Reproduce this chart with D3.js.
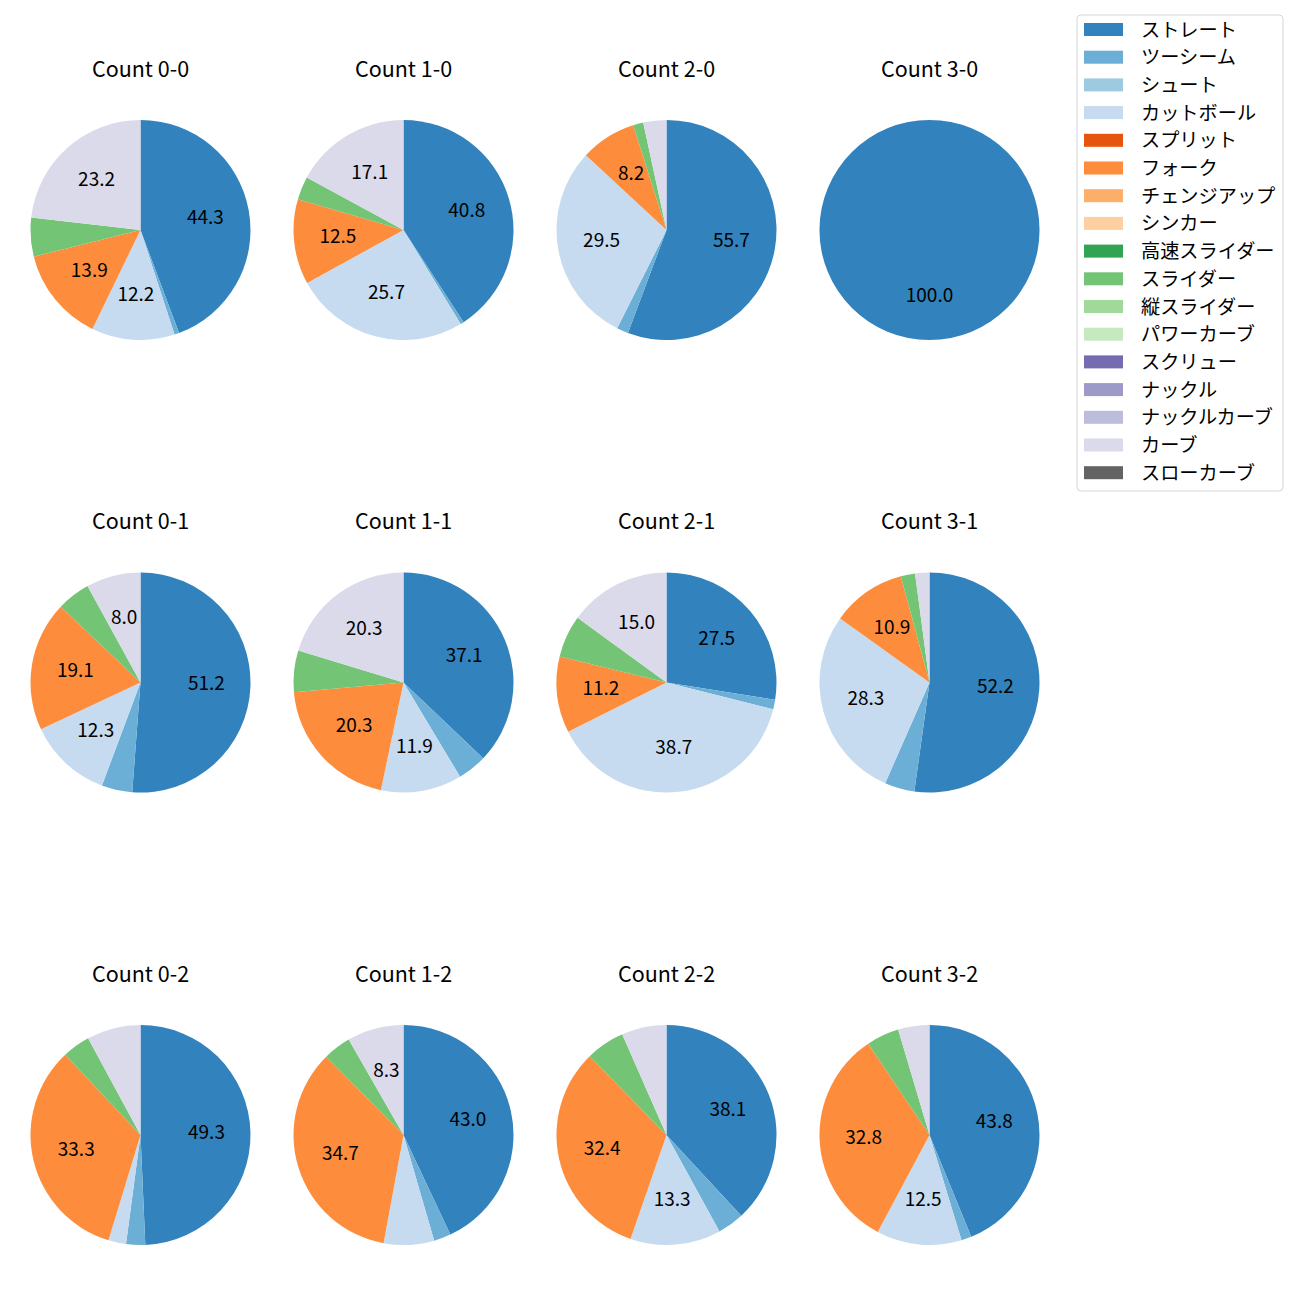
<!DOCTYPE html>
<html>
<head>
<meta charset="utf-8">
<script src="https://cdn.jsdelivr.net/npm/d3@7"></script>
<style>
  html, body { margin: 0; padding: 0; background: #fff; }
  text { font-family: "Noto Sans CJK JP", "Noto Sans", sans-serif; }
</style>
</head>
<body>
<svg id="chart" width="1300" height="1300"></svg>
<script>
const pitchTypes = ["ストレート","ツーシーム","シュート","カットボール","スプリット","フォーク","チェンジアップ","シンカー","高速スライダー","スライダー","縦スライダー","パワーカーブ","スクリュー","ナックル","ナックルカーブ","カーブ","スローカーブ"];
const pitchColors = ["#3182bd","#6baed6","#9ecae1","#c6dbef","#e6550d","#fd8d3c","#fdae6b","#fdd0a2","#31a354","#74c476","#a1d99b","#c7e9c0","#756bb1","#9e9ac8","#bcbddc","#dadaeb","#636363"];
const countLabels = ["0-0","1-0","2-0","3-0","0-1","1-1","2-1","3-1","0-2","1-2","2-2","3-2"];

const c00 = [44.3,0.7,0,12.2,0,13.9,0,0,0,5.7,0,0,0,0,0,23.2,0];
const c10 = [40.8,0.5,0,25.7,0,12.5,0,0,0,3.4,0,0,0,0,0,17.1,0];
const c20 = [55.7,1.7,0,29.5,0,8.2,0,0,0,1.5,0,0,0,0,0,3.4,0];
const c30 = [100,0,0,0,0,0,0,0,0,0,0,0,0,0,0,0,0];
const c01 = [51.2,4.5,0,12.3,0,19.1,0,0,0,4.9,0,0,0,0,0,8.0,0];
const c11 = [37.1,4.3,0,11.9,0,20.3,0,0,0,6.1,0,0,0,0,0,20.3,0];
const c21 = [27.5,1.4,0,38.7,0,11.2,0,0,0,6.2,0,0,0,0,0,15.0,0];
const c31 = [52.2,4.4,0,28.3,0,10.9,0,0,0,2.1,0,0,0,0,0,2.1,0];
const c02 = [49.3,2.8,0,2.6,0,33.3,0,0,0,4.1,0,0,0,0,0,7.9,0];
const c12 = [43.0,2.5,0,7.4,0,34.7,0,0,0,4.1,0,0,0,0,0,8.3,0];
const c22 = [38.1,3.9,0,13.3,0,32.4,0,0,0,5.7,0,0,0,0,0,6.6,0];
const c32 = [43.8,1.5,0,12.5,0,32.8,0,0,0,4.8,0,0,0,0,0,4.6,0];
const countValues = [c00,c10,c20,c30,c01,c11,c21,c31,c02,c12,c22,c32];

const labelThreshold = 8.0;

const svg = d3.select("#chart");
const color = d3.scaleOrdinal().domain(pitchTypes).range(pitchColors);

const colX = d3.scalePoint().domain([0,1,2,3]).range([140.5, 929.5]);
const rowY = d3.scalePoint().domain([0,1,2]).range([230, 1135]);
const R = 110;

const pie = d3.pie().sort(null).value(d => d.v).startAngle(0).endAngle(2*Math.PI);
const arc = d3.arc().innerRadius(0).outerRadius(R);
const labelArc = d3.arc().innerRadius(R*0.6).outerRadius(R*0.6);

countLabels.forEach((lab, i) => {
  const col = i % 4, row = Math.floor(i / 4);
  const g = svg.append("g").attr("transform", `translate(${colX(col)},${rowY(row)})`);
  const data = pitchTypes.map((p, k) => ({p, v: countValues[i][k]}));
  const arcs = pie(data).filter(d => d.data.v > 0);
  g.selectAll("path").data(arcs).enter().append("path")
    .attr("d", arc)
    .attr("fill", d => color(d.data.p));
  g.selectAll("text.pct").data(arcs.filter(d => d.data.v >= labelThreshold)).enter().append("text")
    .attr("class", "pct")
    .attr("transform", d => { const c = labelArc.centroid(d); return `translate(${c[0]},${c[1] - 3})`; })
    .attr("text-anchor", "middle")
    .attr("dominant-baseline", "central")
    .attr("font-size", 19)
    .attr("fill", "#000")
    .text(d => d.data.v.toFixed(1));
  g.append("text")
    .attr("x", 0).attr("y", -R - 53)
    .attr("text-anchor", "middle")
    .attr("dominant-baseline", "central")
    .attr("font-size", 21.5)
    .attr("fill", "#000")
    .text("Count " + lab);
});

// legend
const lg = svg.append("g").attr("transform", "translate(1077,15)");
lg.append("rect").attr("x", 0).attr("y", 0).attr("width", 206).attr("height", 476)
  .attr("rx", 4).attr("fill", "#fff").attr("stroke", "#d6d6d6").attr("stroke-width", 1);
const ly = d3.scaleLinear().domain([0, pitchTypes.length - 1]).range([14.5, 457.7]);
pitchTypes.forEach((p, k) => {
  lg.append("rect").attr("x", 7).attr("y", ly(k) - 6.5).attr("width", 39).attr("height", 13)
    .attr("fill", color(p));
  lg.append("text").attr("x", 64).attr("y", ly(k) - 1).attr("dominant-baseline", "central")
    .attr("font-size", 19.2).attr("fill", "#000").text(p);
});
</script>
</body>
</html>
